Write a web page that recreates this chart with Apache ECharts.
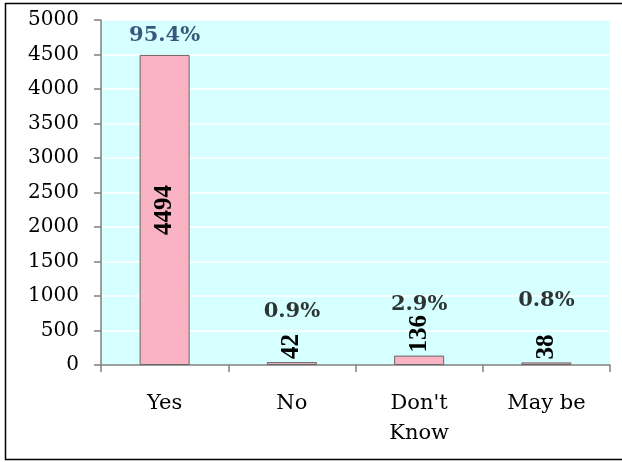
<!DOCTYPE html>
<html>
<head>
<meta charset="utf-8">
<script src="https://cdn.jsdelivr.net/npm/echarts@6/dist/echarts.min.js"></script>
<style>
  html, body { margin: 0; padding: 0; background: #fff; }
  #chart { width: 622px; height: 462px; }
</style>
</head>
<body>
<div id="chart"></div>
<script>
// data
var categories = ['Yes', 'No', "Don't\nKnow", 'May be'];
var counts = [4494, 42, 136, 38];
var percentLabels = ['95.4%', '0.9%', '2.9%', '0.8%'];
// where the percent labels sit, in axis units
var percentY = [4770, 780, 880, 940];

// the source text is wide, so a wide serif for horizontal text
var wideSerif = '"DejaVu Serif", "Liberation Serif", serif';
var serif = '"Liberation Serif", "Times New Roman", serif';

var chart = echarts.init(document.getElementById('chart'));

// value labels: inside the tall bar, above the short ones
var barData = counts.map(function (v, i) {
    var item = {value: v};
    if (i === 0) {
        item.label = {position: 'inside', align: 'center', verticalAlign: 'middle'};
    }
    return item;
});

var pctData = percentLabels.map(function (t, i) {
    return {
        value: [i, percentY[i]],
        label: {color: i === 0 ? '#0f2d5a' : '#000'}
    };
});

var option = {
    animation: false,
    backgroundColor: '#fff',
    grid: {
        left: 101, right: 12, top: 20, bottom: 97,
        show: true,
        backgroundColor: '#d6ffff',
        borderWidth: 0
    },
    xAxis: {
        type: 'category',
        data: categories,
        axisLine: {lineStyle: {color: '#808080', width: 1.5}},
        axisTick: {show: true, alignWithLabel: false, length: 7, lineStyle: {color: '#808080', width: 1.5}},
        axisLabel: {
            color: '#000', fontFamily: wideSerif, fontSize: 21,
            lineHeight: 30, margin: 24, interval: 0
        }
    },
    yAxis: {
        type: 'value',
        min: 0, max: 5000, interval: 500,
        axisLine: {show: true, lineStyle: {color: '#808080', width: 1.5}},
        axisTick: {show: true, length: 7, lineStyle: {color: '#808080', width: 1.5}},
        axisLabel: {
            color: '#000', fontFamily: wideSerif, fontSize: 20, margin: 22,
            formatter: function (v) { return String(v); }
        },
        splitLine: {lineStyle: {color: '#fff', width: 1.5}}
    },
    series: [
        {
            type: 'bar',
            data: barData,
            barWidth: 50,
            itemStyle: {color: '#f9b3c2', borderColor: '#666', borderWidth: 1},
            label: {
                show: true,
                position: 'top',
                distance: 3,
                rotate: 90,
                align: 'left',
                verticalAlign: 'middle',
                color: '#000',
                fontFamily: serif,
                fontWeight: 'bold',
                fontSize: 25
            }
        },
        {
            type: 'scatter',
            data: pctData,
            symbolSize: 0,
            silent: true,
            label: {
                show: true,
                position: 'inside',
                fontFamily: wideSerif,
                fontWeight: 'bold',
                fontSize: 21,
                formatter: function (p) { return percentLabels[p.dataIndex]; }
            }
        }
    ],
    graphic: [{
        type: 'rect',
        shape: {x: 5.5, y: 3.5, width: 640, height: 456},
        style: {fill: 'none', stroke: '#000', lineWidth: 1.5},
        silent: true
    }]
};

chart.setOption(option);
</script>
</body>
</html>
